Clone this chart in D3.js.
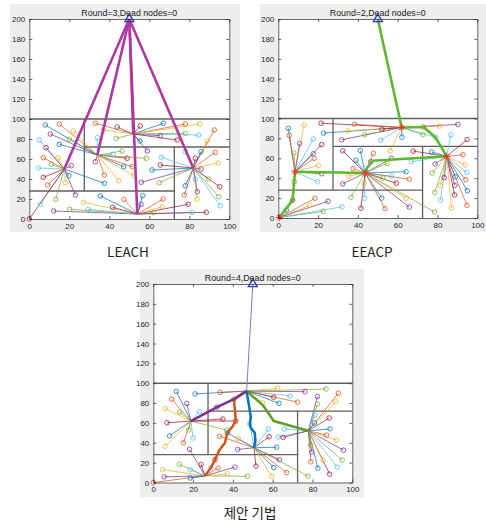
<!DOCTYPE html>
<html>
<head>
<meta charset="utf-8">
<script src="https://cdn.jsdelivr.net/npm/d3@7"></script>
<style>
  body { margin: 0; background: #fff; }
  svg { display: block; }
</style>
</head>
<body>
<script>
// ---------- data (field coordinates in metres, sink at top centre) ----------
const sink = [50, 200];
const xTicks = [0, 20, 40, 60, 80, 100];
const yTicks = [0, 20, 40, 60, 80, 100, 120, 140, 160, 180, 200];

// partition of the 100 x 100 field into five zones
const zoneLines = [
  [[0, 100], [100, 100]],
  [[27.5, 28], [27.5, 100]],
  [[27.5, 72], [100, 72]],
  [[0, 28], [72.5, 28]],
  [[72.5, 0], [72.5, 72]]
];

const titles = ["Round=3,Dead nodes=0", "Round=2,Dead nodes=0", "Round=4,Dead nodes=0"];
const captions = ["LEACH", "EEACP", "제안 기법"];

// LEACH: sensor nodes and the elected cluster heads
const leachNodes = [
  [8,94],[15,95],[22,88],[10.5,85],[20,79.7],[5,79],[8.4,71.3],[15,74.7],
  [7,61.3],[14.4,61.3],[21,53.3],[11,54.7],[4.5,51],[7,41.7],[19.7,43.3],
  [9.2,34],[18,36.3],[23,24],[13.2,19.7],[5.5,14.7],[0,0],[37.5,35.7],
  [33,95.7],[37,89],[44,92],[43.5,80.7],[34,81.3],[55.5,93],[67,95.7],[78,95],[85.2,95],
  [65.5,83.3],[78,85.7],[84.7,84],[73.9,79],[55.3,78],[92.5,89],[88.9,78],
  [33,57.3],[46.4,68],[41.9,64.7],[48.9,60.7],[47.2,52.3],[37.5,44],[44.7,38.3],
  [59,68],[58.5,60.7],[66,61.7],[65.5,54],[61.4,49],[51.4,52.3],[52.2,43.3],[56,36.7],[65,36.3],
  [78,67.3],[83,60.7],[85.8,67.3],[93,66.7],[94.4,56],[85.9,50],[89.7,40],[83,39.7],[95.2,32.3],
  [78,33.3],[77.5,24],[83.9,20],[84,27.3],[94.7,22.3],[95.5,13.3],[79.4,14.7],
  [35.5,23],[47.2,19.7],[27.2,16.7],[12.2,8],[20.2,9.7],[29.4,9.7],[41.7,11.7],
  [56.7,23.3],[66.9,20],[66.4,12.3],[55.9,14.7],[62.2,6.3],[81.4,6.7],[88.5,6.7]
];
const leachHeads = [[17.5,50],[52,85],[34,64],[82,51],[54,5]];

// EEACP: nodes, cluster heads and the multi-hop route to the sink
const eeacpNodes = [
  [5,90],[5.5,83],[13,93.5],[10.7,75],[7.8,65.5],[17.6,79.3],[21.8,73.8],[17.5,64.5],
  [18,60],[20.1,52.8],[21.8,44.5],[8,36.5],[19.7,36.4],[21.5,95.3],[22.7,85.3],
  [18.4,19.8],[15.8,12.5],[25,16.8],[22.6,6.5],[32,11.2],[7.2,18],[4,8],
  [38.3,94.3],[34.8,87.6],[31.9,78.6],[43.4,83.6],[51.5,78.3],[52.1,89.3],[62.1,81.3],
  [73,91.5],[81,92.3],[90.2,94],[72.6,83.7],[79,81],
  [32.4,67.5],[41.2,67.8],[47.8,65],[56.2,67.5],[56.9,60],[54.8,55],[66.8,56.6],[67.8,67.2],
  [39,58],[37.6,49.5],[35.3,42],[32.4,34.2],[52.5,40],[57,42],[59.3,35],[64.2,46.5],[65.8,39],
  [43.2,35],[46.5,56.5],[36.5,21],[43.3,19.8],[41.5,9.8],[52,20],[53.6,9.5],[64.2,19.8],[65.8,11],[78.5,6],
  [86.7,83.7],[94.9,78.8],[77.1,66.3],[92.8,63.6],[93.8,53.3],[78.8,54.4],[77.4,45.3],[94.7,45.8],
  [83.4,40.5],[89,41.5],[94.2,38.5],[81.4,32.8],[88.7,32.7],[78.6,25.7],[81.5,18.2],[88.6,23.2],
  [95,27.4],[94.8,12.8],[87,10.2]
];
const eeacpHeads = [[0.5,0.5],[8.4,46.5],[62,91],[43.6,45.3],[84.6,62]];
const eeacpRoute = [[50,200],[62,91],[73,91.5],[79,81],[84.6,62],[47.5,57.5],[44.5,50],
  [43.6,45.3],[8.4,46.5],[7.2,18],[0.5,0.5]];

// proposed scheme: nodes, cluster heads and the per-cluster relay paths
const propNodes = [
  [11.6,91.8],[9.2,84],[5.9,74.6],[16.8,79.7],[13.2,71],[23.1,71.3],[6.9,60.2],[8.2,47],
  [15.1,40],[5.9,36.6],[18.2,33.4],[17.8,53],[20,45],[35,64],
  [21,89.2],[33.6,90.8],[62.5,94.9],[76.2,91.5],[86.8,94.2],[68.7,87.2],[60.5,86],[63.2,79.8],
  [72.5,81],[54.9,80.4],[32,76],[40.5,84],
  [57.8,53.8],[58.2,46.1],[62,35.5],[33.4,46.5],[42.7,44.4],[42.4,33.3],[36.9,52.8],[48.5,59],
  [51.6,16.5],[60.5,15],[67,10],[59.5,6.2],[63.3,23],[77.8,6.4],[62.8,46],[41.5,62],[37.2,50],
  [93,90],[91.7,81.4],[82.5,86.8],[82.5,78.9],[81.2,68],[88.4,65],[88.8,54],[87.1,47.7],
  [92.1,42.7],[95.5,32.6],[94.9,22.6],[92.5,15.5],[88.6,8.4],[82.7,14.5],[79.2,20.8],[85.3,22.5],
  [79.6,30.6],[79,37.6],[65.9,54],[65.3,45.5],[81,60],
  [0,0],[4.7,13],[5.5,5.7],[13.1,18.3],[18.6,12.8],[24,18.3],[18.6,4.5],[32.5,14.5],
  [37.3,8.8],[41,15.5],[47.3,6.3],[29,15],[31,23]
];
const propHeads = [[18.9,61.8],[46.9,92.1],[50.6,35],[77.9,52.1],[26,6.7]];
const propPathA = [[18.9,61.8],[32,76],[40.5,84],[46.9,92.1]];
const propPathE = [[26,6.7],[29,15],[31,23],[33,32],[36,40],[37.2,50],[40,57],[41.5,62],[40.5,84],[46.9,92.1]];
const propPathC = [[50.6,35],[51.3,42],[51,50],[49,55],[48.5,59],[49,66],[48.2,76],[46.9,92.1]];
const propPathD = [[77.9,52.1],[60.5,62],[58.5,68],[55,78],[46.9,92.1]];
const propUplink = [[46.9,92.1],[50,200]];

// ---------- drawing ----------
const W = 486, H = 526;
const palette = ["#0072BD", "#D95319", "#EDB120", "#7E2F8E", "#77AC30", "#4DBEEE", "#A2142F"];
const axisInk = "#262626";

const svg = d3.select("body").append("svg")
  .attr("width", W).attr("height", H)
  .style("font-family", "'Liberation Sans', Arial, sans-serif");

const layout = [
  { bg: [10, 4, 230, 228], plot: [29.3, 19, 200, 200], cap: [128, 257] },
  { bg: [260, 4, 226, 228], plot: [278.3, 19, 199, 199], cap: [372, 257] },
  { bg: [140, 269, 224, 228], plot: [153.3, 284, 199, 198.5], cap: [250, 518] }
];

function panel(idx, nodes, heads, extras) {
  const L = layout[idx];
  const [pl, pt, pw, ph] = L.plot;
  const g = svg.append("g");

  g.append("rect").attr("x", L.bg[0]).attr("y", L.bg[1])
    .attr("width", L.bg[2]).attr("height", L.bg[3]).attr("fill", "#eeeeee");

  const x = d3.scaleLinear().domain([0, 100]).range([pl, pl + pw]);
  const y = d3.scaleLinear().domain([0, 200]).range([pt + ph, pt]);
  const line = d3.line().x(d => x(d[0])).y(d => y(d[1]));

  g.append("rect").attr("x", pl).attr("y", pt).attr("width", pw).attr("height", ph).attr("fill", "#fff");

  // zone partition
  g.append("g").selectAll("path").data(zoneLines).join("path")
    .attr("d", line).attr("fill", "none").attr("stroke", "#5f5f5f").attr("stroke-width", 1.3);

  // member -> cluster head links (each node joins its nearest head)
  const owner = nodes.map(n => d3.minIndex(heads, h => (h[0] - n[0]) ** 2 + (h[1] - n[1]) ** 2));
  g.append("g").selectAll("path").data(nodes).join("path")
    .attr("d", (d, i) => line([d, heads[owner[i]]]))
    .attr("fill", "none")
    .attr("stroke", (d, i) => palette[i % palette.length])
    .attr("stroke-opacity", 0.8)
    .attr("stroke-width", 0.9);

  g.append("g").selectAll("circle").data(nodes).join("circle")
    .attr("cx", d => x(d[0])).attr("cy", d => y(d[1])).attr("r", 2.3)
    .attr("fill", "none")
    .attr("stroke", (d, i) => palette[i % palette.length])
    .attr("stroke-opacity", 0.85)
    .attr("stroke-width", 0.9);

  extras(g, x, y, line);

  // axes with inward ticks on all four sides
  const axes = [
    d3.axisBottom(x).tickValues(xTicks).tickSizeInner(-3).tickSizeOuter(0).tickPadding(4),
    d3.axisTop(x).tickValues(xTicks).tickSizeInner(-3).tickSizeOuter(0).tickFormat(""),
    d3.axisLeft(y).tickValues(yTicks).tickSizeInner(-3).tickSizeOuter(0).tickPadding(4),
    d3.axisRight(y).tickValues(yTicks).tickSizeInner(-3).tickSizeOuter(0).tickFormat("")
  ];
  const shifts = [[0, pt + ph], [0, pt], [pl, 0], [pl + pw, 0]];
  axes.forEach((ax, k) => {
    const a = g.append("g").attr("transform", `translate(${shifts[k][0]},${shifts[k][1]})`).call(ax);
    a.select(".domain").attr("stroke", axisInk).attr("stroke-width", 0.7);
    a.selectAll(".tick line").attr("stroke", axisInk).attr("stroke-width", 0.7);
    a.selectAll(".tick text").attr("fill", axisInk).attr("font-size", 8)
      .attr("font-family", "'Liberation Sans', Arial, sans-serif");
  });

  // sink
  g.append("path")
    .attr("d", d3.symbol(d3.symbolTriangle, 34)())
    .attr("transform", `translate(${x(sink[0])},${y(sink[1])})`)
    .attr("fill", "none").attr("stroke", "#2438b8").attr("stroke-width", 1.3);

  g.append("text").attr("x", pl + pw / 2).attr("y", pt - 3)
    .attr("text-anchor", "middle").attr("font-size", 8.8).attr("fill", "#1a1a1a")
    .text(titles[idx]);

  svg.append("text").attr("x", L.cap[0]).attr("y", L.cap[1])
    .attr("text-anchor", "middle").attr("font-size", 13.5).attr("fill", "#222")
    .style("font-family", "'Noto Sans CJK KR', 'Noto Sans', sans-serif")
    .text(captions[idx]);
}

// LEACH: every head transmits straight to the sink
panel(0, leachNodes, leachHeads, (g, x, y, line) => {
  g.append("g").selectAll("path").data(leachHeads).join("path")
    .attr("d", d => line([d, sink]))
    .attr("fill", "none").attr("stroke", "#b0379f").attr("stroke-width", 2.6);
});

// EEACP: chained route through the heads, heads shown as red asterisks
panel(1, eeacpNodes, eeacpHeads, (g, x, y, line) => {
  g.append("path").attr("d", line(eeacpRoute))
    .attr("fill", "none").attr("stroke", "#5cb82e").attr("stroke-width", 2.6)
    .attr("stroke-linejoin", "round");
  const r = 3.6;
  const star = `M${-r},0L${r},0M0,${-r}L0,${r}M${-r*0.7},${-r*0.7}L${r*0.7},${r*0.7}M${-r*0.7},${r*0.7}L${r*0.7},${-r*0.7}`;
  g.append("g").selectAll("path").data(eeacpHeads).join("path")
    .attr("d", star)
    .attr("transform", d => `translate(${x(d[0])},${y(d[1])})`)
    .attr("stroke", "#ff2a2a").attr("stroke-width", 1);
});

// proposed: relay paths from each head to the gateway head, then one uplink
panel(2, propNodes, propHeads, (g, x, y, line) => {
  g.append("path").attr("d", line(propUplink))
    .attr("fill", "none").attr("stroke", "#7a78d8").attr("stroke-width", 1);
  const paths = [
    [propPathE, "#D95319"],
    [propPathA, "#7E2F8E"],
    [propPathD, "#5e9e22"],
    [propPathC, "#0072BD"]
  ];
  g.append("g").selectAll("path").data(paths).join("path")
    .attr("d", d => line(d[0]))
    .attr("fill", "none").attr("stroke", d => d[1]).attr("stroke-width", 2.5)
    .attr("stroke-linejoin", "round");
});
</script>
</body>
</html>
